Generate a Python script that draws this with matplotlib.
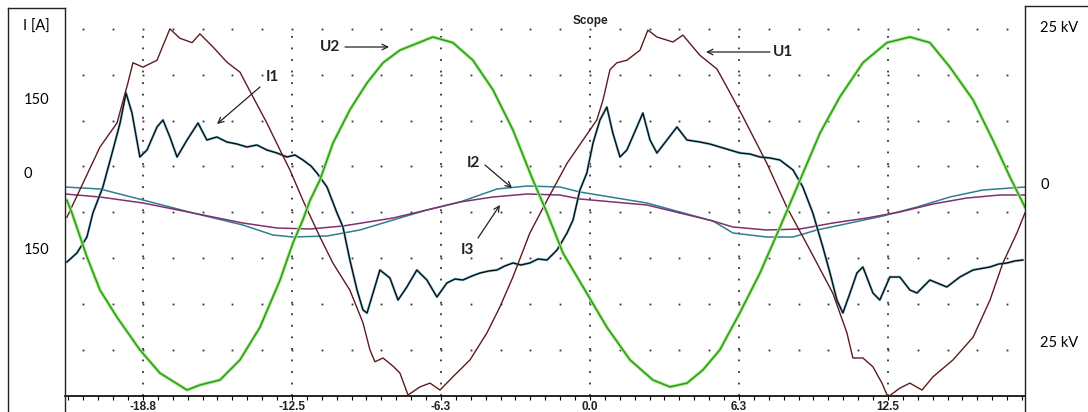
"""
Scope capture - phase voltages U1/U2 and currents I1/I2/I3 over one and a half cycles
"""

import numpy as np
import matplotlib.pyplot as plt
from matplotlib.lines import Line2D
from matplotlib.ticker import MultipleLocator

# --- data (time in ms, voltage in kV, current in A) ---
u1_t = [-21.94, -20.55, -19.84, -19.38, -19.17, -18.75, -18.16, -17.62, -17.20, -16.69,
        -16.36, -15.81, -15.23, -14.68, -14.14, -13.55, -13.00, -12.58, -12.04, -11.33,
        -10.78, -10.07, -9.52, -9.23, -9.02, -8.68, -8.26, -7.97, -7.63, -7.13,
        -6.71, -6.29, -5.75, -5.03, -4.32, -3.78, -3.23, -2.52, -1.80, -0.96,
        -0.29, 0.29, 0.55, 0.84, 1.13, 1.55, 2.10, 2.43, 2.81, 3.48,
        3.90, 4.61, 5.33, 5.75, 6.42, 7.42, 8.26, 9.23, 10.19, 10.78,
        11.03, 11.45, 11.87, 12.25, 12.50, 13.00, 13.42, 13.93, 14.39, 15.23,
        16.07, 16.78, 17.32, 17.91, 18.25]
u1_kv = [-5.3, 5.9, 9.7, 16.1, 19.3, 18.6, 19.7, 24.7, 23.2, 22.5,
         23.9, 21.8, 19.4, 17.8, 13.9, 9.7, 5.4, 2.2, -2.6, -8.4,
         -12.6, -16.9, -22.1, -26.4, -28.3, -27.7, -29.0, -30.1, -33.6, -32.3,
         -31.7, -32.8, -30.7, -28.0, -23.7, -19.6, -14.8, -7.8, -2.6, 3.3,
         7.0, 10.2, 13.4, 18.2, 19.3, 19.7, 21.3, 24.5, 23.4, 22.6,
         23.7, 20.5, 18.3, 15.4, 10.7, 3.3, -3.7, -10.5, -17.4, -23.7,
         -27.7, -27.7, -29.1, -31.7, -33.9, -32.5, -31.7, -32.8, -30.7, -28.0,
         -24.4, -18.5, -12.6, -7.8, -4.6]

u2_t = [-21.94, -21.73, -21.10, -20.55, -19.84, -18.88, -18.04, -16.90, -16.36, -15.52,
        -14.68, -13.84, -13.00, -12.46, -12.04, -11.74, -11.33, -10.78, -10.07, -9.35,
        -8.68, -7.97, -6.59, -5.75, -4.91, -4.07, -3.23, -2.39, -1.80, -1.13,
        -0.13, 0.71, 1.68, 2.64, 3.36, 4.07, 4.74, 5.45, 6.29, 7.13,
        7.97, 8.81, 9.65, 10.49, 11.45, 12.46, 13.42, 14.26, 15.10, 16.07,
        16.90, 17.62, 18.25]
u2_kv = [-2.6, -4.6, -11.6, -16.9, -21.2, -26.4, -30.1, -32.8, -32.0, -31.2,
         -28.0, -22.8, -15.3, -9.4, -5.7, -2.6, 0.6, 6.5, 11.8, 16.1,
         19.3, 21.3, 23.4, 22.5, 19.7, 15.0, 8.6, 0.6, -4.6, -11.0,
         -17.4, -22.8, -28.0, -31.2, -32.3, -31.7, -29.6, -26.4, -20.5, -14.2,
         -6.9, 0.6, 8.1, 13.9, 19.3, 22.5, 23.4, 22.5, 18.6, 13.4,
         7.0, 1.1, -3.7]

i1_t = [-21.94, -21.52, -21.10, -20.85, -20.64, -20.43, -20.01, -19.71, -19.46, -19.21,
        -18.88, -18.58, -18.16, -17.91, -17.62, -17.32, -16.90, -16.44, -16.07, -15.65,
        -15.23, -14.81, -14.39, -13.97, -13.55, -13.13, -12.71, -12.37, -12.04, -11.70,
        -11.45, -11.03, -10.61, -10.36, -10.07, -9.77, -9.52, -9.35, -9.10, -8.81,
        -8.39, -8.05, -7.68, -7.26, -6.84, -6.42, -6.00, -5.66, -5.33, -4.95,
        -4.61, -4.24, -3.90, -3.57, -3.23, -2.90, -2.52, -2.18, -1.80, -1.38,
        -0.96, -0.71, -0.42, -0.13, 0.13, 0.42, 0.71, 0.96, 1.26, 1.55,
        1.97, 2.22, 2.52, 2.81, 3.23, 3.65, 4.07, 4.61, 5.03, 5.45,
        5.87, 6.29, 6.71, 7.13, 7.55, 7.97, 8.52, 8.93, 9.35, 9.77,
        10.07, 10.36, 10.61, 10.91, 11.20, 11.45, 11.87, 12.16, 12.58, 13.00,
        13.42, 13.72, 14.26, 14.97, 15.52, 16.07, 16.78, 17.15, 17.49, 17.82,
        18.16]
i1_a = [-178, -160, -128, -80, -54, -28, 46, 100, 160, 120,
        32, 46, 92, 106, 72, 32, 66, 100, 66, 72,
        62, 58, 52, 56, 46, 40, 32, 36, 26, 14,
        0, -28, -80, -108, -174, -234, -274, -280, -240, -194,
        -210, -254, -228, -194, -214, -248, -220, -212, -214, -206,
        -200, -196, -194, -186, -180, -184, -180, -172, -174, -154,
        -120, -94, -34, 0, 60, 106, 132, 80, 32, 46,
        92, 120, 66, 40, 66, 92, 66, 62, 58, 52,
        46, 40, 38, 32, 30, 26, 6, -28, -80, -148,
        -200, -254, -280, -240, -200, -188, -240, -254, -208, -208,
        -234, -240, -214, -228, -208, -194, -188, -182, -180, -176,
        -174]

i2_t = [-22.02, -20.55, -18.75, -16.65, -14.56, -13.30, -12.46, -11.03, -9.65, -8.26,
        -6.84, -5.45, -3.90, -2.64, -1.26, -0.42, 2.39, 5.16, 6.00, 7.42,
        8.52, 9.52, 10.91, 12.29, 13.72, 15.10, 16.48, 18.25]
i2_a = [-28, -32, -54, -80, -104, -124, -128, -126, -114, -94,
        -74, -58, -32, -26, -28, -38, -60, -96, -120, -128,
        -128, -114, -100, -86, -68, -48, -34, -28]

i3_t = [-22.02, -20.55, -18.75, -16.65, -14.56, -13.13, -11.74, -10.36, -8.26, -6.84,
        -5.45, -4.07, -2.64, -1.26, -0.42, 2.39, 5.16, 6.00, 7.42, 8.81,
        10.19, 11.62, 13.00, 14.39, 15.81, 17.20, 18.25]
i3_a = [-42, -48, -60, -80, -100, -110, -112, -106, -90, -74,
        -58, -48, -42, -44, -52, -64, -96, -108, -114, -112,
        -100, -90, -78, -62, -50, -44, -44]

x_ticks = [-18.75, -12.5, -6.25, 0.0, 6.25, 12.5]
x_tick_labels = ['-18.8', '-12.5', '-6.3', '0.0', '6.3', '12.5']
i_ticks = [150, 0, -150]
i_tick_labels = ['150', '0', '150']
u_ticks = [25, 0, -25]
u_tick_labels = ['25 kV', '0', '25 kV']

W, H = 1088, 412


def fpx(x, y):
    """image pixel (top-left origin) -> figure fraction"""
    return x / W, 1 - y / H


plt.rcParams['font.family'] = ['Lato', 'DejaVu Sans']

fig = plt.figure(figsize=(W / 100, H / 100), dpi=100, facecolor='white')
ax = fig.add_axes([65 / W, 16 / H, 960 / W, 396 / H])
ax.set_xlim(-22.02, 18.25)
ax.set_ylim(-446, 346)
ax2 = ax.twinx()
ax2.set_ylim(-33.75, 29.29)

# dotted scope grid: 8 rows of dots, dotted verticals at the labelled ticks
grid_top = (396 - 29) / 396
rows = grid_top - np.arange(8) * (45.8 / 396)
dot_x = np.arange(-21.25, 18.3, 1.25)
for r in rows:
    ax.plot(dot_x, np.full(len(dot_x), r), ls='none', marker='s', ms=1.3,
            color='#333333', mew=0, transform=ax.get_xaxis_transform(), zorder=1)
for xt in x_ticks:
    ax.plot([xt, xt], [0, grid_top], color='#333333', lw=1.3,
            ls=(0, (1, 5.4)), transform=ax.get_xaxis_transform(), zorder=1)

# currents on the left scale
ax.plot(i2_t, i2_a, color='#2f7f92', lw=1.1, zorder=3)
ax.plot(i3_t, i3_a, color='#80306e', lw=1.1, zorder=3)
ax.plot(i1_t, i1_a, color='#8fcbe0', lw=1.9, zorder=4)
ax.plot(i1_t, i1_a, color='#0d0d0d', lw=1.0, zorder=5)

# voltages on the right scale
ax2.plot(u1_t, u1_kv, color='#5e1b1f', lw=1.0, zorder=3)
ax2.plot(u2_t, u2_kv, color='#a8e47e', lw=2.4, zorder=4)
ax2.plot(u2_t, u2_kv, color='#1f9a1f', lw=1.0, zorder=5)

# axes and ticks
for s in ['top', 'right', 'left']:
    ax.spines[s].set_visible(False)
    ax2.spines[s].set_visible(False)
ax2.spines['bottom'].set_visible(False)
ax.spines['bottom'].set_linewidth(1.2)

ax.set_xticks(x_ticks)
ax.set_xticklabels(x_tick_labels, fontsize=8.5, fontweight='bold',
                   family='Liberation Sans', color='#222222')
ax.xaxis.set_minor_locator(MultipleLocator(0.625))
ax.tick_params(axis='x', which='both', direction='out', length=3, width=0.8, pad=0.5)

ax.set_yticks(i_ticks)
ax.set_yticklabels(i_tick_labels, fontsize=10.5)
for lab in ax.get_yticklabels():
    lab.set_horizontalalignment('left')
ax.tick_params(axis='y', length=0, pad=30)

ax2.set_yticks(u_ticks)
ax2.set_yticklabels(u_tick_labels, fontsize=10.5)
ax2.tick_params(axis='y', length=0, pad=11)

# side panel borders
for (x0, y0), (x1, y1) in [((8, 8), (8, 412)), ((8, 8), (65, 8)), ((65, 8), (65, 412)),
                           ((1025, 6), (1025, 412)), ((1025, 6), (1088, 6))]:
    a, b = fpx(x0, y0)
    c, d = fpx(x1, y1)
    fig.add_artist(Line2D([a, c], [b, d], color='#222222', lw=1.0))

fig.text(*fpx(23, 27), 'I [A]', fontsize=10.5, ha='left', va='center')
fig.text(*fpx(590, 21), 'Scope', fontsize=8.5, fontweight='bold',
         family='Liberation Sans', ha='center', va='center', color='#222222')

# trace labels with arrows
arrow = dict(arrowstyle='->', color='#222222', lw=0.9, shrinkA=0, shrinkB=0)
labels = [('U2', (330, 47), (345, 47), (389, 47)),
          ('I1', (272, 77), (260, 87), (217, 124)),
          ('U1', (783, 52), (770, 52), (706, 52)),
          ('I2', (473, 163), (485, 165), (512, 188)),
          ('I3', (467, 250), (478, 238), (500, 205))]
for txt, tpos, start, end in labels:
    fig.text(*fpx(*tpos), txt, fontsize=11, fontweight='bold', ha='center', va='center',
             color='#222222')
    ax.annotate('', xy=fpx(*end), xytext=fpx(*start), xycoords='figure fraction',
                textcoords='figure fraction', arrowprops=arrow)

fig.savefig('out.png', dpi=100, facecolor='white')
